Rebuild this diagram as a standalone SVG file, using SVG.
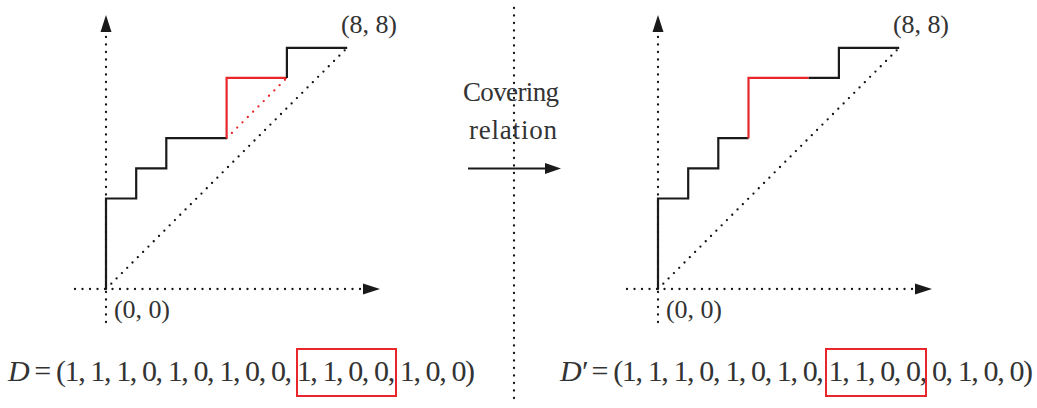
<svg xmlns="http://www.w3.org/2000/svg" width="1037" height="408" viewBox="0 0 1037 408">
<style>
.dot{fill:none;stroke:#111;stroke-width:2.3;stroke-dasharray:0 7.5;stroke-linecap:round}
.rdot{fill:none;stroke:#e8262b;stroke-width:2.3;stroke-dasharray:0 7.5;stroke-linecap:round}
.path{fill:none;stroke:#1a1a1a;stroke-width:2.2;stroke-linejoin:miter}
.red{fill:none;stroke:#e8262b;stroke-width:2.2}
.head{fill:#1a1a1a}
.t{font-family:"Liberation Serif","DejaVu Serif",serif;fill:#333}
.box{fill:none;stroke:#e8262b;stroke-width:2}
</style>
<rect width="1037" height="408" fill="#fff"/>
<g id="left-diagram">
  <line class="dot" x1="106" y1="322" x2="106" y2="34"/>
  <polygon class="head" points="106,15 100.5,32 111.5,32"/>
  <line class="dot" x1="75" y1="289" x2="362" y2="289"/>
  <polygon class="head" points="380,289 363,283.5 363,294.5"/>
  <line class="dot" x1="106" y1="289" x2="347" y2="48"/>
  <line class="rdot" x1="226.6" y1="138.2" x2="286.9" y2="77.9"/>
  <polyline class="path" points="106,289 106,198.5 136.2,198.5 136.2,168.4 166.3,168.4 166.3,138.2 226.6,138.2"/>
  <polyline class="red" points="226.6,138.2 226.6,77.9 286.9,77.9"/>
  <polyline class="path" points="286.9,77.9 286.9,47.8 347.2,47.8"/>
  <text class="t" x="341" y="33" font-size="26" textLength="56">(8, 8)</text>
  <text class="t" x="114" y="318" font-size="26" textLength="56">(0, 0)</text>
</g>
<g id="right-diagram">
  <line class="dot" x1="658" y1="322" x2="658" y2="34"/>
  <polygon class="head" points="658,15 652.5,32 663.5,32"/>
  <line class="dot" x1="627" y1="289" x2="914" y2="289"/>
  <polygon class="head" points="932,289 915,283.5 915,294.5"/>
  <line class="dot" x1="658" y1="289" x2="899.2" y2="47.8"/>
  <polyline class="path" points="658,289 658,198.5 688.2,198.5 688.2,168.4 718.3,168.4 718.3,138.2 748.5,138.2"/>
  <polyline class="red" points="748.5,138.2 748.5,77.9 808.8,77.9"/>
  <polyline class="path" points="808.8,77.9 838.9,77.9 838.9,47.8 899.2,47.8"/>
  <text class="t" x="893" y="33" font-size="26" textLength="56">(8, 8)</text>
  <text class="t" x="666" y="318" font-size="26" textLength="56">(0, 0)</text>
</g>
<g id="separator">
  <line class="dot" x1="514" y1="8" x2="514" y2="405"/>
</g>
<g id="connectors">
  <line x1="468" y1="168.5" x2="548" y2="168.5" stroke="#1a1a1a" stroke-width="2"/>
  <polygon class="head" points="561,168.5 545,163 545,174"/>
</g>
<g id="covering-label">
  <text class="t" x="511" y="101" font-size="27" text-anchor="middle" textLength="96">Covering</text>
  <text class="t" x="513" y="139" font-size="27" text-anchor="middle" textLength="88">relation</text>
</g>
<g id="formula-left">
  <text class="t" x="8" y="381" font-size="30" textLength="467"><tspan font-style="italic">D</tspan> = (1, 1, 1, 0, 1, 0, 1, 0, 0, 1, 1, 0, 0, 1, 0, 0)</text>
  <rect class="box" x="297" y="349" width="99" height="47"/>
</g>
<g id="formula-right">
  <text class="t" x="560" y="381" font-size="30" textLength="473"><tspan font-style="italic">D′</tspan> = (1, 1, 1, 0, 1, 0, 1, 0, 1, 1, 0, 0, 0, 1, 0, 0)</text>
  <rect class="box" x="826" y="349" width="100" height="47"/>
</g>
</svg>
